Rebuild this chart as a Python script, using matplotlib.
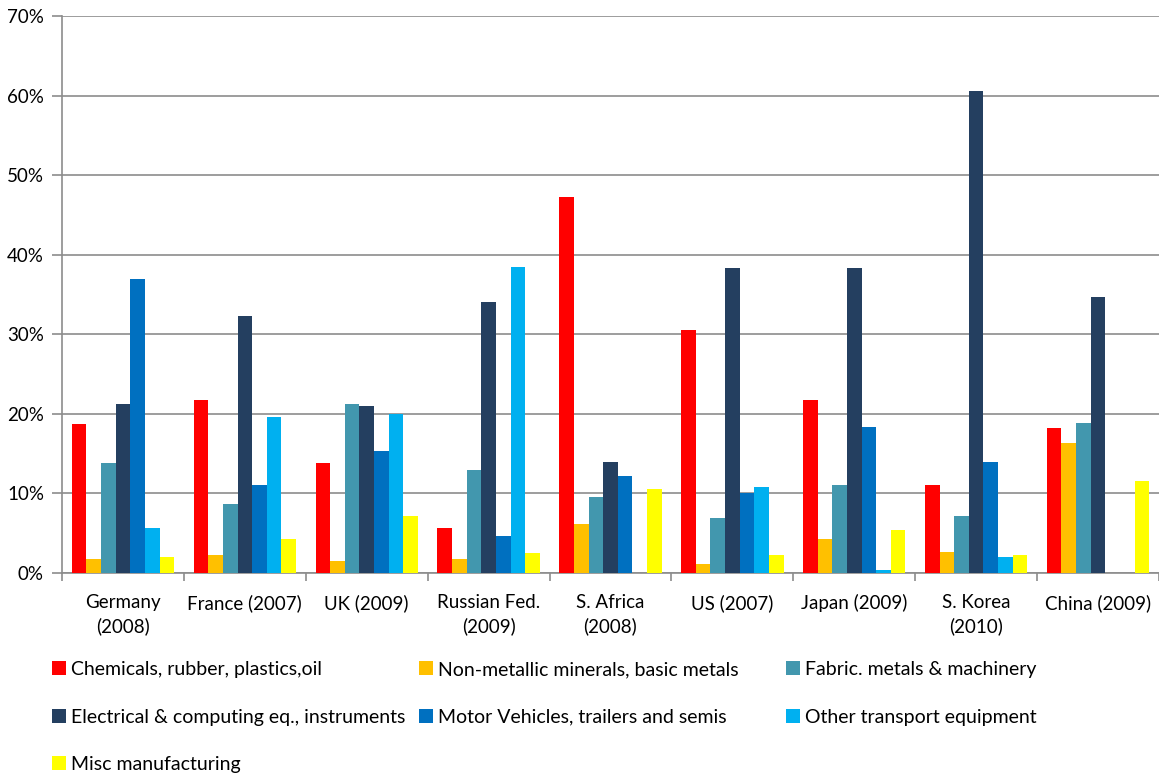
import matplotlib.pyplot as plt
import numpy as np
from matplotlib.ticker import PercentFormatter

plt.rcParams["font.family"] = ["Lato", "DejaVu Sans"]

paises = ["Germany\n(2008)", "France (2007)", "UK (2009)", "Russian Fed.\n(2009)",
          "S. Africa\n(2008)", "US (2007)", "Japan (2009)", "S. Korea\n(2010)",
          "China (2009)"]

setores = [
    "Chemicals, rubber, plastics,oil",
    "Non-metallic minerals, basic metals",
    "Fabric. metals & machinery",
    "Electrical & computing eq., instruments",
    "Motor Vehicles, trailers and semis",
    "Other transport equipment",
    "Misc manufacturing",
]

quimicos = [18.7, 21.7, 13.8, 5.6, 47.3, 30.5, 21.7, 11.1, 18.2]
minerais = [1.7, 2.2, 1.5, 1.7, 6.1, 1.1, 4.3, 2.7, 16.4]
maquinas = [13.8, 8.7, 21.3, 13.0, 9.6, 6.9, 11.1, 7.2, 18.9]
eletricos = [21.3, 32.3, 21.0, 34.1, 13.9, 38.3, 38.3, 60.6, 34.7]
veiculos = [36.9, 11.0, 15.3, 4.6, 12.2, 10.0, 18.4, 13.9, 0.0]
transporte = [5.6, 19.6, 20.0, 38.5, 0.0, 10.8, 0.4, 2.0, 0.0]
diversos = [2.0, 4.3, 7.2, 2.5, 10.5, 2.3, 5.4, 2.3, 11.6]

series = [quimicos, minerais, maquinas, eletricos, veiculos, transporte, diversos]
cores = ["#FF0000", "#FFC000", "#4297AE", "#243F60", "#0070C0", "#00B0F0", "#FFFF00"]

fig = plt.figure(figsize=(11.59, 7.75), dpi=100)
ax = fig.add_axes([62 / 1159, 1 - 573 / 775, 1097 / 1159, 557 / 775])

x = np.arange(len(paises))
largura = 0.12
barras = []
for i, (valores, cor) in enumerate(zip(series, cores)):
    b = ax.bar(x + (i - 3) * largura, valores, largura, color=cor, zorder=3)
    barras.append(b)

ax.set_xlim(-0.5, len(paises) - 0.5)
ax.set_ylim(0, 70)
ax.set_yticks(range(0, 71, 10))
ax.yaxis.set_major_formatter(PercentFormatter(decimals=0))
ax.grid(axis="y", color="#8c8c8c", linewidth=1.2, zorder=0)

ax.set_xticks(x)
ax.set_xticklabels(paises, fontsize=13.5, linespacing=1.45)
ax.set_xticks(np.arange(-0.5, len(paises) + 0.5, 1), minor=True)
ax.tick_params(axis="x", which="major", length=0, pad=15)
ax.tick_params(axis="x", which="minor", length=6, color="#8c8c8c", width=1.2)
ax.tick_params(axis="y", length=7, color="#8c8c8c", width=1.2, labelsize=13.5, pad=6)

for lado in ["top", "right"]:
    ax.spines[lado].set_visible(False)
for lado in ["left", "bottom"]:
    ax.spines[lado].set_color("#8c8c8c")
    ax.spines[lado].set_linewidth(1.2)

# legenda em tres colunas fixas, como no original
colunas = [[0, 3, 6], [1, 4], [2, 5]]
x_colunas = [52, 419, 786]
for idx, xc in zip(colunas, x_colunas):
    leg = fig.legend([barras[i] for i in idx], [setores[i] for i in idx],
                     loc="upper left", bbox_to_anchor=(xc / 1159, 1 - 661 / 775),
                     frameon=False, fontsize=14, handlelength=0.7, handleheight=0.7,
                     handletextpad=0.3, labelspacing=1.57, borderpad=0,
                     borderaxespad=0)

fig.savefig("out.png", dpi=100)
